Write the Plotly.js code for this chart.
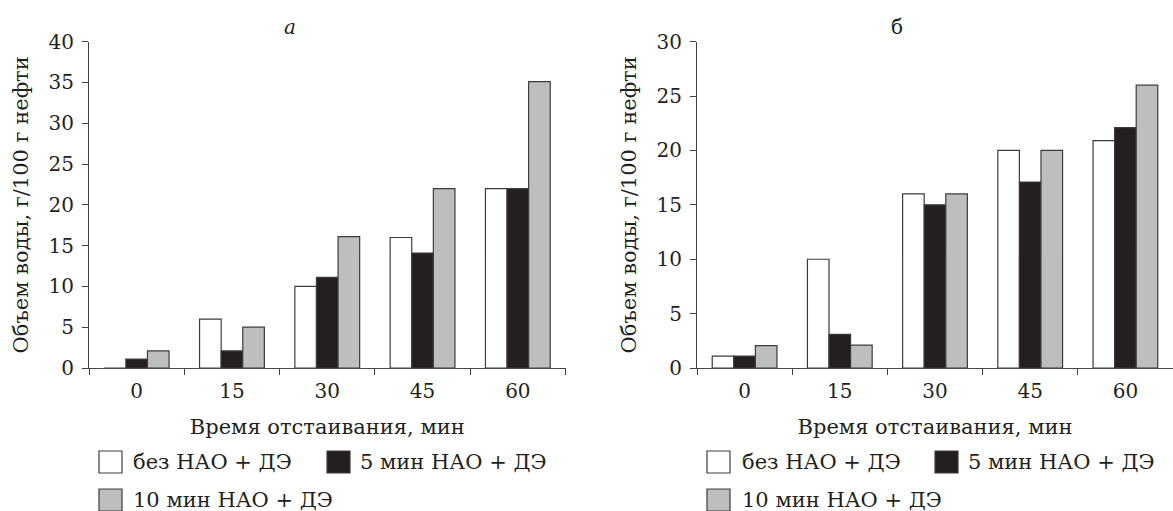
<!DOCTYPE html>
<html>
<head>
<meta charset="utf-8">
<script src="https://cdn.plot.ly/plotly-3.0.1.min.js"></script>
<style>html,body{margin:0;padding:0;background:#fff;}#chart{width:1173px;height:511px;}</style>
</head>
<body>
<div id="chart"></div>
<script>
// Data
const categories = ["0", "15", "30", "45", "60"];
const seriesNames = ["без НАО + ДЭ", "5 мин НАО + ДЭ", "10 мин НАО + ДЭ"];
// Panel а
const a_noNAO = [0, 6, 10, 16, 22];
const a_5min = [1.1, 2.1, 11.1, 14.1, 22];
const a_10min = [2.1, 5, 16.1, 22, 35.1];
// Panel б
const b_noNAO = [1.1, 10, 16, 20, 20.9];
const b_5min = [1.1, 3.1, 15, 17.1, 22.1];
const b_10min = [2.05, 2.1, 16, 20, 26];
const panelTitles = ["а", "б"];
const xTitle = "Время отстаивания, мин";
const yTitle = "Объем воды, г/100 г нефти";

const W = 1173, H = 511;
const FONT = "DejaVu Serif";
const TXT = "#231f20";
const colors = ["#ffffff", "#231f20", "#bcbec0"];
const lineCol = "#3c3c3c";

function px(x) { return x / W; }
function py(y) { return 1 - y / H; }

function mk(vals, i, xa, ya) {
  return {
    type: "bar", x: categories, y: vals, name: seriesNames[i],
    xaxis: xa, yaxis: ya, showlegend: false,
    marker: { color: colors[i], line: { color: lineCol, width: 1.2 } },
    hoverinfo: "x+y"
  };
}

const data = [
  mk(a_noNAO, 0, "x", "y"), mk(a_5min, 1, "x", "y"), mk(a_10min, 2, "x", "y"),
  mk(b_noNAO, 0, "x2", "y2"), mk(b_5min, 1, "x2", "y2"), mk(b_10min, 2, "x2", "y2")
];

const tickFont = { family: FONT, size: 20, color: TXT };
const titleFont = { family: FONT, size: 21, color: TXT };

function xaxis(domain, anchor) {
  return {
    domain: domain, anchor: anchor, type: "category",
    tickson: "boundaries", ticks: "outside", ticklen: 6, tickwidth: 1, tickcolor: "#444",
    showline: true, linecolor: "#444", linewidth: 1,
    showgrid: false, zeroline: false,
    tickfont: tickFont, ticklabelstandoff: 5,
    title: { text: xTitle, font: titleFont, standoff: 17 },
    fixedrange: true
  };
}
function yaxis(domain, anchor, max) {
  return {
    domain: domain, anchor: anchor, range: [0, max], dtick: 5,
    ticks: "outside", ticklen: 6, tickwidth: 1, tickcolor: "#444",
    showline: true, linecolor: "#444", linewidth: 1,
    showgrid: false, zeroline: false,
    tickfont: tickFont, ticklabelstandoff: 4,
    title: { text: yTitle, font: titleFont, standoff: 14 },
    fixedrange: true
  };
}

const yDom = [py(368), py(41.7)];
const layout = {
  width: W, height: H,
  margin: { l: 0, r: 0, t: 0, b: 0, pad: 0 },
  paper_bgcolor: "#fff", plot_bgcolor: "#fff",
  bargap: 0.32, bargroupgap: 0, barmode: "group",
  font: { family: FONT, color: TXT },
  xaxis: xaxis([px(89), px(565.5)], "y"),
  yaxis: yaxis(yDom, "x", 40),
  xaxis2: xaxis([px(697), 1], "y2"),
  yaxis2: yaxis(yDom, "x2", 30),
  shapes: [],
  annotations: [
    { text: panelTitles[0], x: px(290), y: py(27), xref: "paper", yref: "paper", showarrow: false, xanchor: "center", yanchor: "middle", font: { family: FONT, size: 20, color: TXT, style: "italic" } },
    { text: panelTitles[1], x: px(897), y: py(27), xref: "paper", yref: "paper", showarrow: false, xanchor: "center", yanchor: "middle", font: { family: FONT, size: 20, color: TXT } }
  ]
};

// Legend swatches and labels (two rows per panel)
const legendRows = [
  { box: 99, text: 131, yc: 462, idx: 0 },
  { box: 327, text: 358, yc: 462, idx: 1 },
  { box: 99, text: 131, yc: 500, idx: 2 },
  { box: 707, text: 740, yc: 462, idx: 0 },
  { box: 935, text: 966, yc: 462, idx: 1 },
  { box: 707, text: 740, yc: 500, idx: 2 }
];
legendRows.forEach(r => {
  layout.shapes.push({
    type: "rect", xref: "paper", yref: "paper",
    x0: px(r.box), x1: px(r.box + 23), y0: py(r.yc + 11), y1: py(r.yc - 11),
    fillcolor: colors[r.idx], line: { color: lineCol, width: 1.2 }
  });
  layout.annotations.push({
    text: seriesNames[r.idx], xref: "paper", yref: "paper",
    x: px(r.text), y: py(r.yc), xanchor: "left", yanchor: "middle", showarrow: false,
    font: { family: FONT, size: 21, color: TXT }
  });
});

Plotly.newPlot("chart", data, layout, { displayModeBar: false, staticPlot: true });
</script>
</body>
</html>
